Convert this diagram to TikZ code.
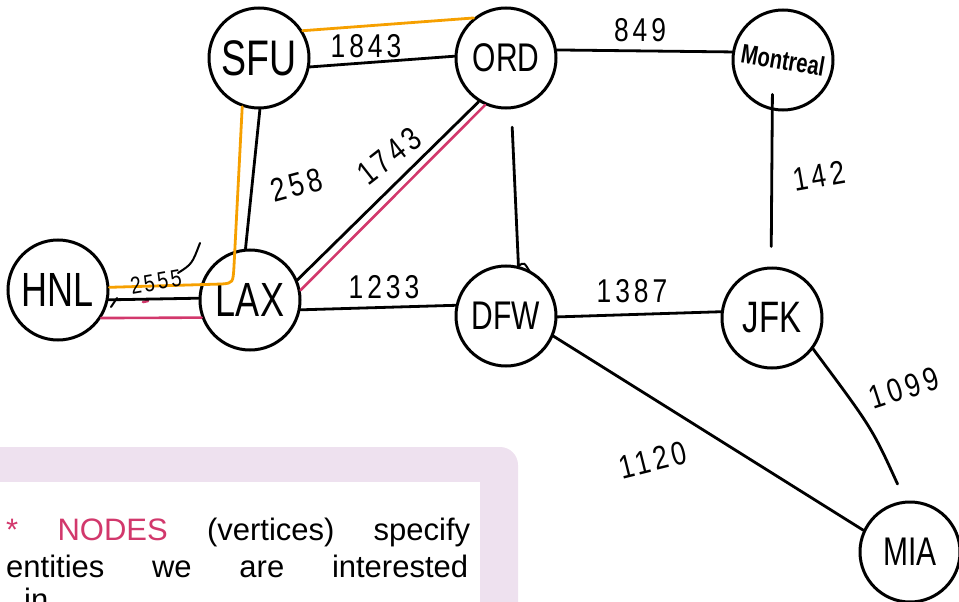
\documentclass[tikz,border=0pt]{standalone}
\usepackage{fontspec}
\setmainfont{Liberation Sans}
\newfontfamily\hand[FakeStretch=0.75]{Liberation Sans}
\newfontfamily\numfont[FakeStretch=0.8,LetterSpace=12]{Liberation Sans}
\newfontfamily\notefont{Liberation Sans}
\usetikzlibrary{calc}
\definecolor{hlorange}{HTML}{F6A000}
\definecolor{hlpink}{HTML}{D2386C}
\definecolor{lav}{HTML}{EEE1EF}
\begin{document}
\begin{tikzpicture}[x=1pt,y=-1pt,
  city/.style={circle,draw,line width=3pt,minimum size=100pt,inner sep=0pt,font=\hand\fontsize{40}{40}\selectfont},
  road/.style={line width=2.8pt,line cap=round},
  hlo/.style={draw=hlorange,line width=2.8pt,line cap=round,line join=round},
  hlp/.style={draw=hlpink,line width=2.6pt,line cap=round},
  wt/.style={font=\numfont\fontsize{33}{33}\selectfont,inner sep=0pt},
  note/.style={font=\notefont\fontsize{31}{31}\selectfont,inner sep=0pt,anchor=base west}
]
\useasboundingbox (0,0) rectangle (959,602);
\clip (0,0) rectangle (959,602);

% note box
\fill[lav,rounded corners=18pt] (-30,447) rectangle (518,660);
\fill[white] (-30,482) rectangle (480,660);
\node[note] (l1) at (6,540) {\makebox[464pt][s]{\textcolor{hlpink}{* NODES} (vertices) specify}};
\node[note] (l2) at (6,577) {\makebox[462pt][s]{entities we are interested}};
\node[note] (l3) at (24,610) {in.};

% cities
\node[city,font=\hand\fontsize{50}{50}\selectfont] (SFU) at (259,58) {SFU};
\node[city] (ORD) at (506,58) {ORD};
\node[city,font=\hand\bfseries\fontsize{27}{27}\selectfont] (MTL) at (783,60) {\rotatebox{-10}{Montreal}};
\node[city,font=\hand\fontsize{48}{48}\selectfont] (HNL) at (58,290) {HNL};
\node[city,font=\hand\fontsize{48}{48}\selectfont] (LAX) at (250,300) {LAX};
\node[city] (DFW) at (506,316) {DFW};
\node[city,font=\hand\fontsize{44}{44}\selectfont] (JFK) at (772,318) {JFK};
\node[city] (MIA) at (910,552) {MIA};

% highlighted routes
\draw[hlo] (SFU.32) -- (ORD.129);
\coordinate (ob1) at (234,266);
\coordinate (ob2) at (222,284);
\draw[hlo] (SFU.-109) -- (ob1) .. controls (233,283) .. (ob2) -- (HNL.3);
\draw[hlp] (LAX.11) -- (ORD.-114);
\draw[hlp] (HNL.-33) -- (LAX.-160);
\draw[hlp] (143,302) -- (148,301);

% roads
\draw[road] (SFU.-10) -- (ORD.178);
\draw[road] (ORD.9) -- (MTL.171);
\draw[road] (SFU.-89) -- (LAX.95);
\draw[road] (LAX.23) -- (ORD.-122);
\coordinate (dh) at (530,272);
\draw[road,shorten <=18pt] (ORD.-84) -- (DFW.76);
\draw[road,line width=2pt] (DFW.76) .. controls (524,262) .. (dh);
\draw[road,shorten <=20pt,shorten >=-16pt] (JFK.91) -- (MTL.-102);
\draw[road] (LAX.-11) -- (DFW.168);
\draw[road] (DFW.-1) -- (JFK.173);
\draw[road] (DFW.-23) -- (MIA.155);
\draw[road] (JFK.-37) .. controls (872,428) .. ($(MIA.104)+(0,-18)$);
\draw[road] (HNL.-11) -- (LAX.178);
\draw[road,line width=2pt] (117,298) -- (111,307);
\draw[road,line width=2pt] (178,273) .. controls (192,264) .. (200,243);

% weights
\node[wt] (w1) at (366,46) {1843};
\node[wt] (w2) at (640,30) {849};
\node[wt,rotate=15] (w3) at (297,185) {258};
\node[wt,rotate=38] (w4) at (389,156) {1743};
\node[wt,rotate=10] (w5) at (819,176) {142};
\node[wt,rotate=10,font=\numfont\fontsize{24}{24}\selectfont] (w6) at (156,282) {2555};
\node[wt] (w7) at (384,287) {1233};
\node[wt] (w8) at (632,291) {1387};
\node[wt,rotate=14] (w9) at (653,460) {1120};
\node[wt,rotate=18] (w10) at (904,388) {1099};
\end{tikzpicture}
\end{document}
